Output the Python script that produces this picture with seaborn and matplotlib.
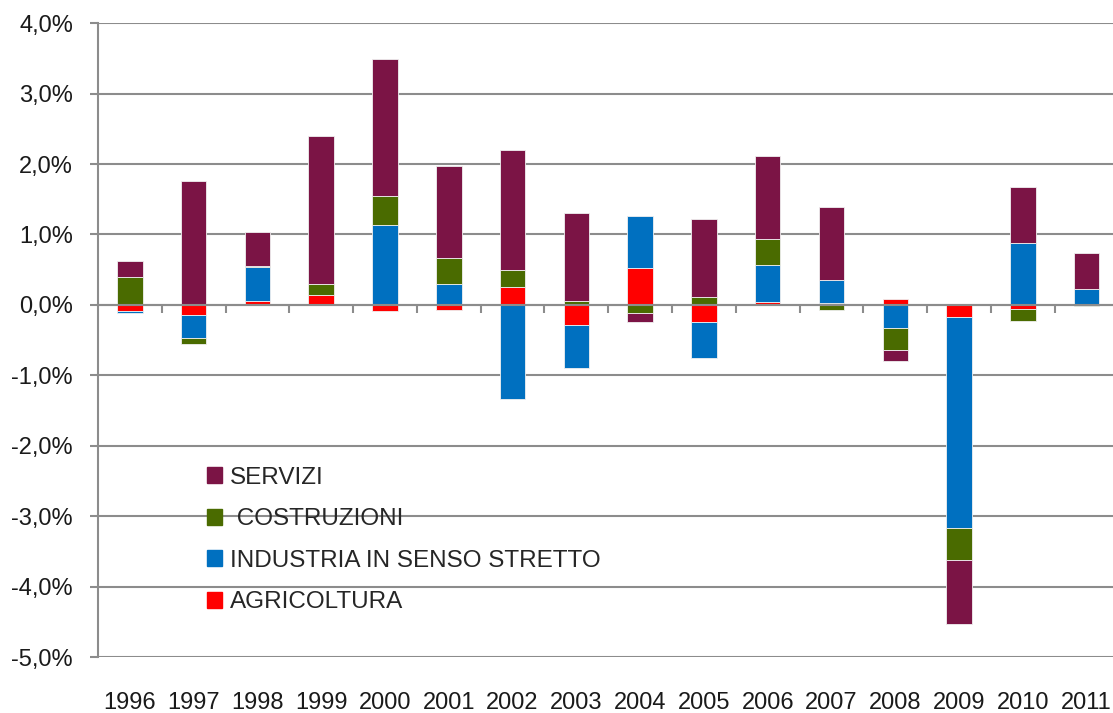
import numpy as np
import pandas as pd
import seaborn as sns
import matplotlib.pyplot as plt
from matplotlib.patches import Patch
from matplotlib.ticker import FuncFormatter, FixedLocator

# Contributi settoriali alla crescita (punti percentuali)
years = [str(y) for y in range(1996, 2012)]
agricoltura = [-0.08, -0.14, 0.05, 0.14, -0.09, -0.07, 0.25, -0.28, 0.53, -0.25, 0.04, 0.02, 0.08, -0.17, -0.06, 0.01]
industria = [-0.04, -0.33, 0.49, 0.00, 1.13, 0.30, -1.33, -0.62, 0.73, -0.51, 0.52, 0.34, -0.33, -3.00, 0.88, 0.22]
costruzioni = [0.39, -0.08, 0.01, 0.15, 0.41, 0.36, 0.25, 0.06, -0.11, 0.11, 0.37, -0.07, -0.31, -0.45, -0.17, -0.02]
servizi = [0.24, 1.76, 0.49, 2.11, 1.95, 1.31, 1.70, 1.24, -0.13, 1.11, 1.18, 1.03, -0.15, -0.91, 0.79, 0.51]

series = [
    ("AGRICOLTURA", agricoltura, "#FF0000"),
    ("INDUSTRIA IN SENSO STRETTO", industria, "#0070C0"),
    (" COSTRUZIONI", costruzioni, "#4A6B00"),
    ("SERVIZI", servizi, "#7B1445"),
]

sns.set_theme(style="white")
plt.rcParams["font.family"] = ["Liberation Sans", "DejaVu Sans"]

fig = plt.figure(figsize=(11.13, 7.13), dpi=100)
ax = fig.add_axes([0.088, 0.0785, 0.917, 0.889])

grid_c = "#8C8C8C"
pos_base = np.zeros(len(years))
neg_base = np.zeros(len(years))
for name, vals, col in series:
    v = np.array(vals)
    bottom = np.where(v >= 0, pos_base, neg_base)
    df = pd.DataFrame({"anno": years, "val": v})
    sns.barplot(data=df, x="anno", y="val", color=col, width=0.4, bottom=bottom,
                errorbar=None, saturation=1, linewidth=0.6, edgecolor="#F0F0F0", ax=ax, zorder=3)
    pos_base = pos_base + np.where(v >= 0, v, 0)
    neg_base = neg_base + np.where(v < 0, v, 0)

ax.set_ylim(-5, 4)
ax.set_xlim(-0.5, len(years) - 0.5)
ax.set_yticks(np.arange(-5, 4.1, 1))
ax.yaxis.set_major_formatter(FuncFormatter(lambda y, _: f"{y:.1f}%".replace(".", ",")))
ax.grid(axis="y", color=grid_c, linewidth=1.5, zorder=0)
ax.grid(axis="x", visible=False)
ax.set_xlabel("")
ax.set_ylabel("")

for s in ["top", "right"]:
    ax.spines[s].set_visible(False)
ax.spines["left"].set_color(grid_c)
ax.spines["left"].set_linewidth(1.5)
ax.spines["bottom"].set_position(("data", 0))
ax.spines["bottom"].set_color(grid_c)
ax.spines["bottom"].set_linewidth(1.5)
ax.spines["bottom"].set_zorder(4)

ax.tick_params(axis="y", direction="out", length=6, width=1.5, color=grid_c,
               labelsize=17, labelcolor="#1a1a1a", pad=12, left=True)
ax.xaxis.set_major_locator(FixedLocator(range(len(years))))
ax.tick_params(axis="x", which="major", length=0, labelbottom=False)
ax.xaxis.set_minor_locator(FixedLocator(np.arange(0.5, len(years) - 0.5, 1)))
ax.tick_params(axis="x", which="minor", direction="out", length=6, width=1.5, color=grid_c, bottom=True)

sec = ax.secondary_xaxis("bottom")
sec.set_xticks(range(len(years)))
sec.set_xticklabels(years)
sec.spines["bottom"].set_visible(False)
sec.tick_params(length=0, labelsize=17, labelcolor="#1a1a1a", pad=25)

handles = [Patch(color=c, label=n) for n, _, c in series][::-1]
ax.legend(handles=handles, loc="upper left", bbox_to_anchor=(0.107, 0.30), frameon=False,
          fontsize=17.5, handlelength=0.62, handleheight=0.62, handletextpad=0.3,
          labelspacing=0.8, borderpad=0, borderaxespad=0)

fig.savefig("out.png", dpi=100)
